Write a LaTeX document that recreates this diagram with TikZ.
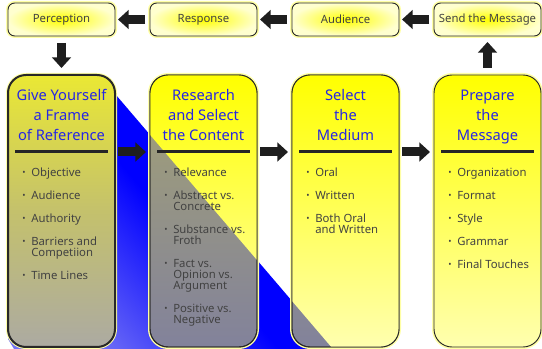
\documentclass[tikz,border=0pt]{standalone}
\usepackage{fontspec}
\setmainfont{Noto Sans}
\usepackage{tikz}
\usetikzlibrary{positioning}
\usetikzlibrary{arrows.meta}

\definecolor{titleblue}{RGB}{38,38,228}
\definecolor{textgrey}{RGB}{66,66,66}
\definecolor{edgegrey}{RGB}{40,40,40}
\definecolor{arrowgrey}{RGB}{30,30,30}
\definecolor{paleyellow}{RGB}{255,255,175}
\definecolor{glowyellow}{RGB}{255,255,165}
\definecolor{deepblue}{RGB}{0,0,255}
\definecolor{paleblue}{RGB}{118,118,245}
\definecolor{shadetop}{RGB}{165,163,115}
\definecolor{shadebot}{RGB}{130,130,155}
\definecolor{frametop}{RGB}{234,232,52}
\definecolor{framemid}{RGB}{196,193,108}
\definecolor{framebot}{RGB}{172,170,162}

\newcommand{\bl}{\makebox[6.75pt][l]{\raisebox{0.8pt}{\fontsize{6.5}{6}\selectfont\textbullet}}}

\tikzset{
  topbox/.style={draw=edgegrey, line width=0.7pt, rounded corners=5pt, minimum width=80.25pt, minimum height=24.75pt,
    inner sep=0, outer sep=0, inner color=yellow, outer color=paleyellow!60!white, text=textgrey,
    font=\fontsize{8.5}{10}\selectfont, preaction={draw=glowyellow, line width=3pt}},
  bigbox/.style={draw=edgegrey, line width=0.7pt, rounded corners=13.5pt, minimum width=80.25pt, minimum height=204pt,
    inner sep=0, outer sep=0, top color=yellow, bottom color=paleyellow, preaction={draw=glowyellow, line width=3pt}},
  title/.style={align=center, inner sep=0, text=titleblue, font=\fontsize{11}{15}\selectfont},
  blist/.style={align=left, inner sep=0, text=textgrey, font={\fontsize{8.5}{8.25}\selectfont\lineskiplimit=-10pt}},
  sepline/.style={draw=black!85, line width=2.25pt},
  bigarrow/.style={draw=arrowgrey, line width=6.75pt, -{Triangle[length=8pt, width=14pt]}}
}

\begin{document}
\begin{tikzpicture}[x=0.75pt, y=0.75pt, node distance=26.25pt]
        \useasboundingbox (0,0) rectangle (542,349);

        \coordinate (tip) at (116,254);
        \coordinate (foot) at (333,0);
        \shade[top color=deepblue, bottom color=paleblue, middle color=deepblue, shading angle=-49.5]
            (tip) -- (foot) -- (14,0) -- (8,10) -- (8,254) -- cycle;

        \node(perc) [topbox] at (61.5,329.5) {Perception};
        \node(resp) [topbox, right=of perc] {Response};
        \node(aud) [topbox, right=of resp] {Audience};
        \node(send) [topbox, right=of aud] {Send the Message};

        \node(frame) [bigbox, line width=1.5pt, top color=frametop, bottom color=framebot, middle color=framemid, below=29.25pt of perc] {};
        \node(content) [bigbox, top color=shadetop, bottom color=shadebot, right=of frame] {};
        \node(medium) [bigbox, top color=shadetop, bottom color=shadebot, right=of content] {};
        \node(prep) [bigbox, right=of medium] {};

        \begin{scope}
            \clip (tip) -- (foot) -- (542,0) -- (542,349) -- (0,349) -- (0,254) -- cycle;
            \foreach \c in {content, medium}
                \shade[rounded corners=13.5pt, top color=yellow, bottom color=paleyellow] (\c.south west) rectangle (\c.north east);
        \end{scope}
        \foreach \c in {content, medium}
            \draw[draw=edgegrey, line width=0.7pt, rounded corners=13.5pt] (\c.south west) rectangle (\c.north east);

        \node(frameT) [title, below=10.7pt of frame.north] {Give Yourself\\a Frame\\of Reference};
        \node(contentT) [title, below=10.7pt of content.north] {Research\\and Select\\the Content};
        \node(mediumT) [title, below=10.7pt of medium.north] {Select\\the\\Medium};
        \node(prepT) [title, below=10.7pt of prep.north] {Prepare\\the\\Message};

        \foreach \c in {frame, content, medium, prep}
            \draw[sepline] ([shift={(7,-77)}]\c.north west) -- ([shift={(-7,-77)}]\c.north east);

        \node(frameL) [blist, below right=69.75pt and 10.5pt of frame.north west]
            {\bl Objective\\[9pt]\bl Audience\\[9pt]\bl Authority\\[9pt]\bl Barriers and\\\hspace*{6.75pt}Competiion\\[9pt]\bl Time Lines};
        \node(contentL) [blist, below right=69.75pt and 10.5pt of content.north west]
            {\bl Relevance\\[9pt]\bl Abstract vs.\\\hspace*{6.75pt}Concrete\\[9pt]\bl Substance vs.\\\hspace*{6.75pt}Froth\\[9pt]\bl Fact vs.\\\hspace*{6.75pt}Opinion vs.\\\hspace*{6.75pt}Argument\\[9pt]\bl Positive vs.\\\hspace*{6.75pt}Negative};
        \node(mediumL) [blist, below right=69.75pt and 10.5pt of medium.north west]
            {\bl Oral\\[9pt]\bl Written\\[9pt]\bl Both Oral\\\hspace*{6.75pt}and Written};
        \node(prepL) [blist, below right=69.75pt and 10.5pt of prep.north west]
            {\bl Organization\\[9pt]\bl Format\\[9pt]\bl Style\\[9pt]\bl Grammar\\[9pt]\bl Final Touches};

        \draw[bigarrow, shorten <=3.75pt, shorten >=2.25pt] (resp) -- (perc);
        \draw[bigarrow, shorten <=3.75pt, shorten >=2.25pt] (aud) -- (resp);
        \draw[bigarrow, shorten <=3.75pt, shorten >=2.25pt] (send) -- (aud);

        \draw[bigarrow, shorten <=5.25pt, shorten >=5.25pt] (perc) -- (frame);
        \draw[bigarrow, shorten <=5.25pt, shorten >=4.5pt] (prep) -- (send);

        \draw[bigarrow, shorten <=2.25pt, shorten >=3pt] ([yshift=-57.75pt]frame.north east) -- ([yshift=-57.75pt]content.north west);
        \draw[bigarrow, shorten <=2.25pt, shorten >=3pt] ([yshift=-57.75pt]content.north east) -- ([yshift=-57.75pt]medium.north west);
        \draw[bigarrow, shorten <=2.25pt, shorten >=3pt] ([yshift=-57.75pt]medium.north east) -- ([yshift=-57.75pt]prep.north west);
    \end{tikzpicture}
\end{document}
